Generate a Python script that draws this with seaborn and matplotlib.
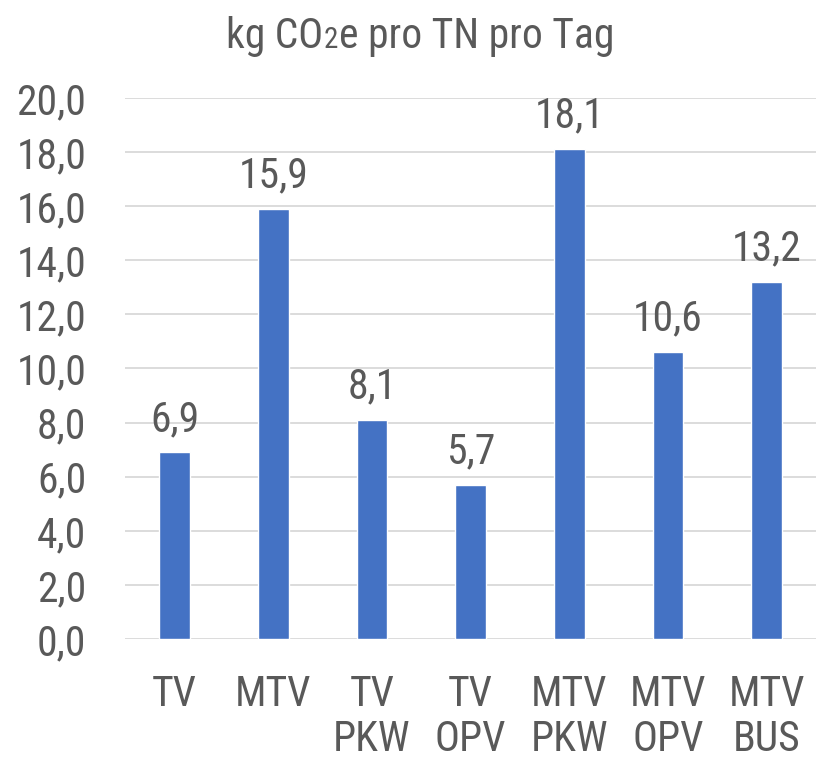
import matplotlib
matplotlib.use("Agg")
import matplotlib.pyplot as plt
import seaborn as sns
import pandas as pd

categories = ["TV", "MTV", "TV\nPKW", "TV\nOPV", "MTV\nPKW", "MTV\nOPV", "MTV\nBUS"]
values = [6.9, 15.9, 8.1, 5.7, 18.1, 10.6, 13.2]
yticks = [0, 2, 4, 6, 8, 10, 12, 14, 16, 18, 20]
title_parts = ["kg CO", "2", "e pro TN pro Tag"]

sns.set_theme(style="white")
font = ["Roboto Condensed", "DejaVu Sans"]
plt.rcParams["font.family"] = font

txt = "#595959"
df = pd.DataFrame({"cat": categories, "val": values})

fig = plt.figure(figsize=(8.16, 7.59), dpi=100)
ax = fig.add_axes([0.1535, 0.158, 0.8465, 0.713])
sns.barplot(data=df, x="cat", y="val", color="#4472C4", width=0.31,
            saturation=1, ax=ax, zorder=3)

ax.set_ylim(0, 20)
ax.set_xlim(-0.5, len(categories) - 0.5)
ax.set_yticks(yticks)
ax.set_yticklabels([f"{v:.1f}".replace(".", ",") for v in yticks])
ax.yaxis.grid(True, color="#D9D9D9", linewidth=1.3, zorder=0)
ax.set_axisbelow(True)
for s in ax.spines.values():
    s.set_visible(False)
ax.set_xlabel("")
ax.set_ylabel("")
ax.tick_params(axis="y", length=0, pad=28, labelsize=30, labelcolor=txt)
ax.tick_params(axis="x", length=0, pad=25, labelsize=30, labelcolor=txt)
for lab in ax.get_xticklabels():
    lab.set_linespacing(1.12)

for i, v in enumerate(values):
    ax.annotate(f"{v:.1f}".replace(".", ","), (i, v), xytext=(0, 9),
                textcoords="offset points", ha="center", va="bottom",
                fontsize=30, color=txt)

# Title with a smaller "2" on the same baseline
renderer = fig.canvas.get_renderer()
sizes = [30, 21, 30]
ts = []
for part, sz in zip(title_parts, sizes):
    t = fig.text(0, 0.937, part, ha="left", va="baseline", fontsize=sz, color=txt)
    ts.append(t)
widths = [t.get_window_extent(renderer).width for t in ts]
total = sum(widths) + 2
x = 0.515 * fig.bbox.width - total / 2
for t, w in zip(ts, widths):
    t.set_x(x / fig.bbox.width)
    x += w + 1

fig.savefig("out.png", dpi=100)
